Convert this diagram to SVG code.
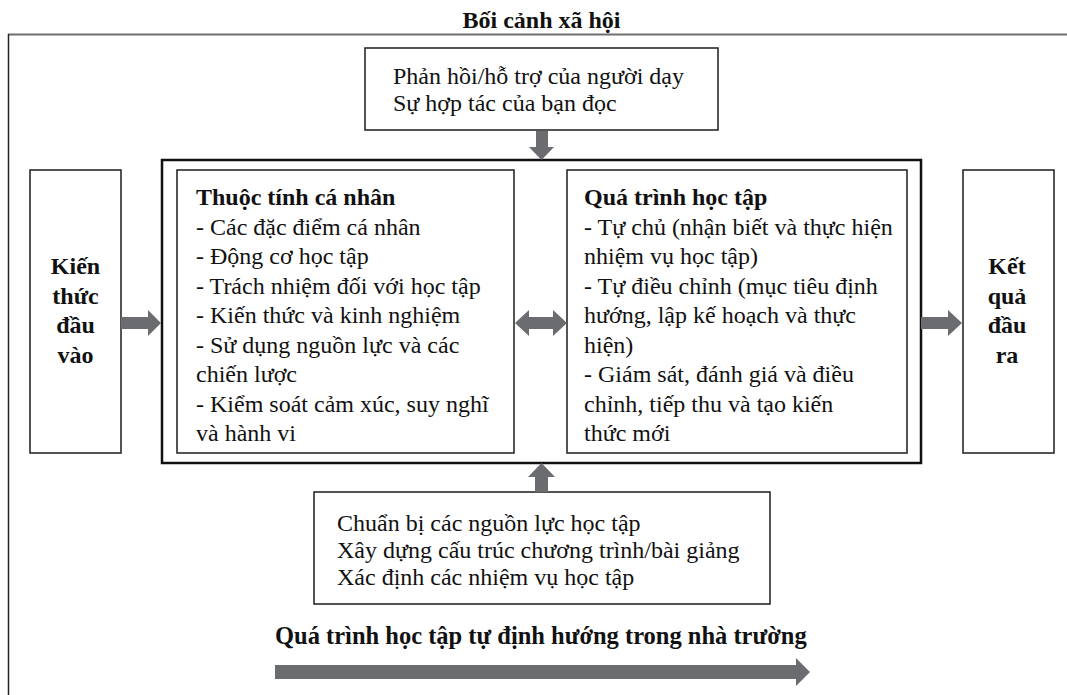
<svg xmlns="http://www.w3.org/2000/svg" width="1067" height="695" viewBox="0 0 1067 695">
<defs>
<style>
text{font-family:"Liberation Serif","Times New Roman",serif;font-size:24px;fill:#111}
.b{font-weight:bold}
.box{fill:#fff;stroke:#2a2a2a;stroke-width:1.6}
.main{fill:#fff;stroke:#111;stroke-width:2.5}
.arr{fill:#6b6c70;stroke:none}
</style>
</defs>
<rect width="1067" height="695" fill="#fff"/>
<g id="frame">
<line x1="8" y1="34.5" x2="1067" y2="34.5" stroke="#6f6f6f" stroke-width="2"/>
<line x1="8.5" y1="34" x2="8.5" y2="695" stroke="#222" stroke-width="1.5"/>
<text class="b" x="541.5" y="28" text-anchor="middle">Bối cảnh xã hội</text>
</g>
<g id="main-box"><rect class="main" x="162" y="160" width="759" height="303"/></g>
<g id="top-box">
<rect class="box" x="365" y="48" width="353" height="82"/>
<text x="393" y="84">Phản hồi/hỗ trợ của người dạy<tspan x="393" dy="27">Sự hợp tác của bạn đọc</tspan></text>
</g>
<g id="input-box">
<rect class="box" x="30" y="170" width="91" height="283"/>
<text class="b" x="75.5" y="274" text-anchor="middle">Kiến<tspan x="75.5" dy="29.5">thức</tspan><tspan x="75.5" dy="29.5">đầu</tspan><tspan x="75.5" dy="29.5">vào</tspan></text>
</g>
<g id="personal-box">
<rect class="box" x="177" y="170" width="337" height="283"/>
<text x="196" y="205"><tspan class="b">Thuộc tính cá nhân</tspan><tspan x="196" dy="29.5">- Các đặc điểm cá nhân</tspan><tspan x="196" dy="29.5">- Động cơ học tập</tspan><tspan x="196" dy="29.5">- Trách nhiệm đối với học tập</tspan><tspan x="196" dy="29.5">- Kiến thức và kinh nghiệm</tspan><tspan x="196" dy="29.5">- Sử dụng nguồn lực và các</tspan><tspan x="196" dy="29.5">chiến lược</tspan><tspan x="196" dy="29.5">- Kiểm soát cảm xúc, suy nghĩ</tspan><tspan x="196" dy="29.5">và hành vi</tspan></text>
</g>
<g id="process-box">
<rect class="box" x="567" y="170" width="340" height="283"/>
<text x="584" y="205"><tspan class="b">Quá trình học tập</tspan><tspan x="584" dy="29.5">- Tự chủ (nhận biết và thực hiện</tspan><tspan x="584" dy="29.5">nhiệm vụ học tập)</tspan><tspan x="584" dy="29.5">- Tự điều chỉnh (mục tiêu định</tspan><tspan x="584" dy="29.5">hướng, lập kế hoạch và thực</tspan><tspan x="584" dy="29.5">hiện)</tspan><tspan x="584" dy="29.5">- Giám sát, đánh giá và điều</tspan><tspan x="584" dy="29.5">chỉnh, tiếp thu và tạo kiến</tspan><tspan x="584" dy="29.5">thức mới</tspan></text>
</g>
<g id="output-box">
<rect class="box" x="963" y="170" width="91" height="283"/>
<text class="b" x="1007" y="274" text-anchor="middle">Kết<tspan x="1007" dy="29.5">quả</tspan><tspan x="1007" dy="29.5">đầu</tspan><tspan x="1007" dy="29.5">ra</tspan></text>
</g>
<g id="bottom-box">
<rect class="box" x="314" y="492" width="456" height="112"/>
<text x="337" y="531">Chuẩn bị các nguồn lực học tập<tspan x="337" dy="27">Xây dựng cấu trúc chương trình/bài giảng</tspan><tspan x="337" dy="27">Xác định các nhiệm vụ học tập</tspan></text>
</g>
<g id="timeline">
<text class="b" x="275" y="644" style="font-size:24.5px">Quá trình học tập tự định hướng trong nhà trường</text>
</g>
<g id="connectors">
<polygon class="arr" points="121,317 148,317 148,310 161,323 148,336 148,329 121,329"/>
<polygon class="arr" points="921,317 948,317 948,310 962,323 948,336 948,329 921,329"/>
<polygon class="arr" points="515,323 529,310 529,317 553,317 553,310 567,323 553,336 553,329 529,329 529,336"/>
<polygon class="arr" points="536,131 548,131 548,147 554,147 541.5,160 529,147 536,147"/>
<polygon class="arr" points="535,492 548,492 548,477 555,477 541.5,463 528,477 535,477"/>
<polygon class="arr" points="275,665 796,665 796,658 810,672 796,686 796,679 275,679"/>
</g>
</svg>
